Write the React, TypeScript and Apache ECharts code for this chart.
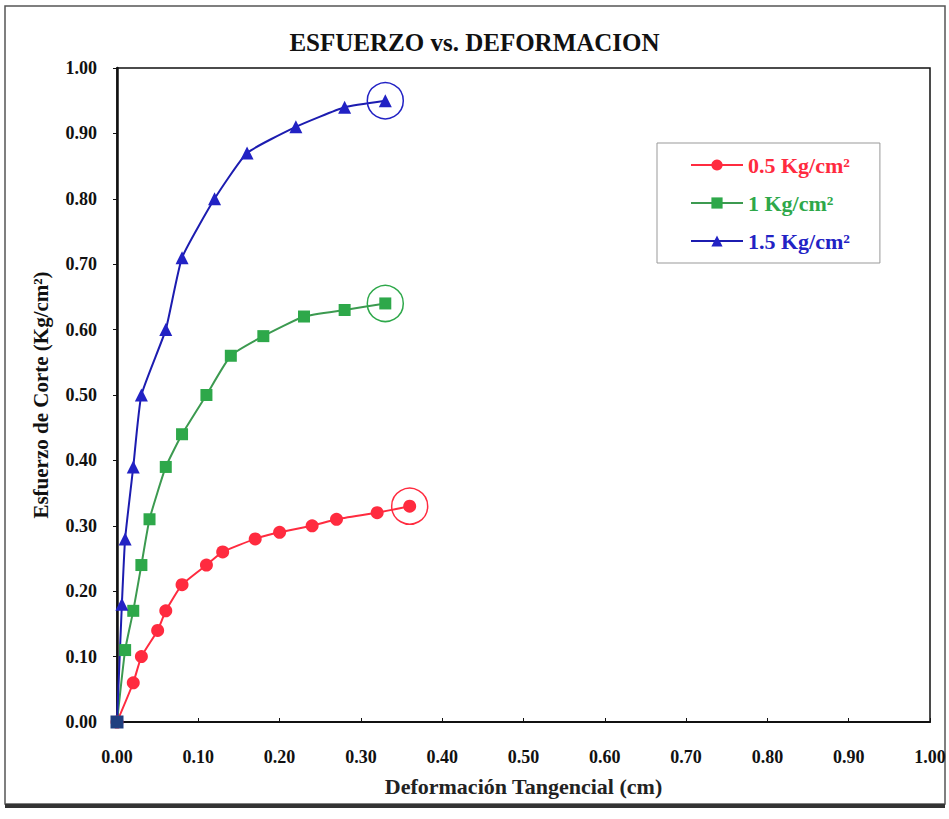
import React, { useEffect, useRef } from "react";
import * as echarts from "echarts";

const xTicks = [0, 0.1, 0.2, 0.3, 0.4, 0.5, 0.6, 0.7, 0.8, 0.9, 1.0];

const redX = [0, 0.02, 0.03, 0.05, 0.06, 0.08, 0.11, 0.13, 0.17, 0.20, 0.24, 0.27, 0.32, 0.36];
const redY = [0, 0.06, 0.10, 0.14, 0.17, 0.21, 0.24, 0.26, 0.28, 0.29, 0.30, 0.31, 0.32, 0.33];

const greenX = [0, 0.01, 0.02, 0.03, 0.04, 0.06, 0.08, 0.11, 0.14, 0.18, 0.23, 0.28, 0.33];
const greenY = [0, 0.11, 0.17, 0.24, 0.31, 0.39, 0.44, 0.50, 0.56, 0.59, 0.62, 0.63, 0.64];

const blueX = [0, 0.006, 0.01, 0.02, 0.03, 0.06, 0.08, 0.12, 0.16, 0.22, 0.28, 0.33];
const blueY = [0, 0.18, 0.28, 0.39, 0.50, 0.60, 0.71, 0.80, 0.87, 0.91, 0.94, 0.95];

const seriesNames = ["0.5 Kg/cm²", "1 Kg/cm²", "1.5 Kg/cm²"];

const RED = "#ff2b3f";
const GREEN = "#2ea84a";
const BLUE = "#2222c4";
const FONT = "Liberation Serif";

function pairs(xs: number[], ys: number[]) {
  return xs.map((x, i) => [x, ys[i]]);
}

function makeSeries(
  name: string,
  xs: number[],
  ys: number[],
  color: string,
  lineColor: string,
  symbol: string,
  size: number,
  originOverride?: any
) {
  const data: any[] = pairs(xs, ys);
  if (originOverride) data[0] = { value: data[0], ...originOverride };
  const last = data.length - 1;
  return {
    name,
    type: "line",
    data,
    smooth: 0.15,
    symbol,
    symbolSize: size,
    lineStyle: { color: lineColor, width: 2 },
    itemStyle: { color },
    markPoint: {
      symbol: "circle",
      symbolSize: 36,
      label: { show: false },
      itemStyle: { color: "rgba(0,0,0,0)", borderColor: color, borderWidth: 1.5 },
      data: [{ coord: [xs[last], ys[last]] }],
    },
  };
}

export default function App() {
  const ref = useRef<HTMLDivElement>(null);
  useEffect(() => {
    if (!ref.current) return;
    const chart = echarts.init(ref.current, undefined, { renderer: "svg" });
    chart.setOption({
      animation: false,
      backgroundColor: "#ffffff",
      title: {
        text: "ESFUERZO vs. DEFORMACION",
        left: "center",
        top: 25,
        textStyle: { fontFamily: FONT, fontWeight: "bold", fontSize: 25, color: "#111" },
      },
      legend: {
        orient: "vertical",
        left: 657,
        top: 143,
        padding: [11, 30, 11, 33],
        itemGap: 16,
        itemWidth: 52,
        itemHeight: 14,
        backgroundColor: "#fff",
        borderColor: "#999",
        borderWidth: 1,
        data: [
          { name: seriesNames[0], textStyle: { color: RED } },
          { name: seriesNames[1], textStyle: { color: GREEN } },
          { name: seriesNames[2], textStyle: { color: BLUE } },
        ],
        textStyle: { fontFamily: FONT, fontWeight: "bold", fontSize: 22 },
      },
      grid: {
        left: 117,
        top: 68,
        width: 813,
        height: 654,
        show: true,
        borderColor: "#111",
        borderWidth: 1.5,
        backgroundColor: "transparent",
      },
      xAxis: {
        type: "value",
        min: 0,
        max: 1,
        interval: 0.1,
        name: "Deformación Tangencial (cm)",
        nameLocation: "middle",
        nameGap: 53,
        nameTextStyle: { fontFamily: FONT, fontWeight: "bold", fontSize: 22, color: "#222" },
        axisLine: { lineStyle: { color: "#111", width: 2 } },
        axisTick: { inside: true, length: 4, lineStyle: { color: "#111" } },
        splitLine: { show: false },
        axisLabel: {
          margin: 26,
          fontFamily: FONT,
          fontWeight: "bold",
          fontSize: 18,
          color: "#111",
          formatter: (v: number) => v.toFixed(2),
          customValues: xTicks,
        },
      },
      yAxis: {
        type: "value",
        min: 0,
        max: 1,
        interval: 0.1,
        name: "Esfuerzo de Corte (Kg/cm²)",
        nameLocation: "middle",
        nameRotate: 90,
        nameGap: 66,
        nameTextStyle: { fontFamily: FONT, fontWeight: "bold", fontSize: 21, color: "#111" },
        axisLine: { lineStyle: { color: "#111", width: 2.5 } },
        axisTick: { inside: false, length: 4, lineStyle: { color: "#111" } },
        splitLine: { show: false },
        axisLabel: {
          margin: 20,
          fontFamily: FONT,
          fontWeight: "bold",
          fontSize: 18,
          color: "#111",
          formatter: (v: number) => v.toFixed(2),
        },
      },
      graphic: [
        {
          type: "rect",
          shape: { x: 5, y: 6, width: 940, height: 798 },
          style: { fill: "none", stroke: "#555", lineWidth: 1.5 },
          silent: true,
        },
        {
          type: "line",
          shape: { x1: 5, y1: 806, x2: 945, y2: 806 },
          style: { stroke: "#333", lineWidth: 4 },
          silent: true,
        },
      ],
      series: [
        makeSeries(seriesNames[0], redX, redY, RED, RED, "circle", 13),
        makeSeries(seriesNames[1], greenX, greenY, GREEN, "#3c9a50", "rect", 12),
        makeSeries(seriesNames[2], blueX, blueY, BLUE, "#1c1cb0", "triangle", 13, {
          symbol: "rect",
          symbolSize: 13,
          itemStyle: { color: "#1f3f80" },
        }),
      ],
    });
    return () => chart.dispose();
  }, []);
  return (
    <div
      ref={ref}
      style={{ position: "absolute", left: 0, top: 0, width: 949, height: 819 }}
    />
  );
}
